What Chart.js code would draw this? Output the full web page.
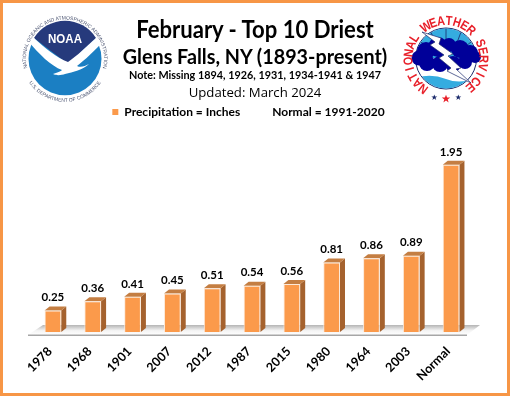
<!DOCTYPE html>
<html lang="en">
<head>
    <meta charset="UTF-8">
    <title>February - Top 10 Driest</title>
    <script src="https://cdn.jsdelivr.net/npm/chart.js"></script>
    <style>
        html, body { margin: 0; padding: 0; background: #fff; }
        #wrap { position: relative; width: 510px; height: 396px; overflow: hidden; }
        #wrap canvas { position: absolute; left: 0; top: 0; }
        #frame { position: absolute; left: 0; top: 0; width: 504px; height: 390px; border: 3px solid #F79646; }
        .t { position: absolute; left: 0; width: 510px; text-align: center; color: #000; font-family: Lato, sans-serif; white-space: nowrap; }
        svg { position: absolute; }
    </style>
</head>
<body>
<div id="wrap">
    <canvas id="chart" width="510" height="396"></canvas>
    <div id="frame"></div>
    <div class="t" style="top:14px;font-size:24px;font-weight:700;transform:scaleX(0.92);">February - Top 10 Driest</div>
    <div class="t" style="top:43px;font-size:21px;font-weight:700;transform:scaleX(0.94);">Glens Falls, NY (1893-present)</div>
    <div class="t" style="top:68px;font-size:11.5px;font-weight:700;transform:scaleX(0.94);">Note: Missing 1894, 1926, 1931, 1934-1941 &amp; 1947</div>
    <div class="t" style="top:83px;font-size:13.2px;font-family:'Open Sans',sans-serif;">Updated: March 2024</div>

    <svg style="left:15px;top:8px" width="100" height="100" viewBox="0 0 100 100">
        <defs>
            <path id="noaaTop" d="M 13.4 64 A 39 39 0 1 1 86.6 64"/>
            <path id="noaaBot" d="M 11 68.9 A 43 43 0 0 0 89 68.9"/>
        </defs>
        <circle cx="50" cy="50.7" r="36.5" fill="#1B7FC3"/>
        <path d="M 19 30 A 36.5 36.5 0 0 1 81 30 L 53 56 Z" fill="#263A7C"/>
        <path d="M 13 33 L 19 30 C 30 40 42 50 53 54 C 62 48 72 38 81 30 L 88 34 C 80 42 70 52 62 58 C 66 60 70 58 74 56 C 68 62 58 64 50 66 C 47 67 42 68 38 66 C 42 65 46 63 47 62 C 36 58 24 46 13 33 Z" fill="#fff"/>
        <text x="50" y="34.5" text-anchor="middle" font-family="Liberation Sans, sans-serif" font-weight="700" font-size="13" fill="#fff" textLength="34" lengthAdjust="spacingAndGlyphs">NOAA</text>
        <text font-family="Liberation Sans, sans-serif" font-size="5" fill="#4d5673"><textPath href="#noaaTop" startOffset="50%" text-anchor="middle">NATIONAL OCEANIC AND ATMOSPHERIC ADMINISTRATION</textPath></text>
        <text font-family="Liberation Sans, sans-serif" font-size="5" fill="#4d5673"><textPath href="#noaaBot" startOffset="50%" text-anchor="middle">U.S. DEPARTMENT OF COMMERCE</textPath></text>
    </svg>

    <svg id="nws" style="left:395px;top:8px" width="105" height="100" viewBox="0 0 105 100">
        <defs>
            <clipPath id="nwsClip"><circle cx="51" cy="50.5" r="30"/></clipPath>
            <polygon id="star" points="0,-3 0.8,-1 3,-1 1.2,0.3 1.9,2.5 0,1.1 -1.9,2.5 -1.2,0.3 -3,-1 -0.8,-1"/>
        </defs>
        <circle cx="51" cy="50.5" r="30.5" fill="#fff" stroke="#1B2A6B" stroke-width="1"/>
        <g clip-path="url(#nwsClip)">
            <rect x="20" y="18" width="62" height="32" fill="#35ACE0"/>
            <path d="M 20 70 Q 36 65 51 71 T 82 69 V 82 H 20 Z" fill="#35ACE0"/>
            <path d="M 51 20 V 40 M 36 24 L 42 40 M 66 24 L 60 40 M 26 34 L 36 42 M 76 34 L 66 42" stroke="#1B2A6B" stroke-width="0.8"/>
        </g>
        <g fill="#000099">
            <circle cx="24" cy="50" r="7.5"/><circle cx="31" cy="43" r="9"/><circle cx="43" cy="39" r="10"/>
            <circle cx="54" cy="37" r="7"/><circle cx="65" cy="41" r="9"/><circle cx="75" cy="45" r="8"/>
            <circle cx="80" cy="49" r="6"/><circle cx="32" cy="55" r="8"/><circle cx="45" cy="56" r="8"/>
            <circle cx="58" cy="56" r="8"/><circle cx="70" cy="54" r="7"/>
        </g>
        <polygon points="27,24 46,30 44,36 58,46 53,48 66,60 61,61 76,75 52,63 56,60 44,50 49,47 35,37 40,34" fill="#fff" stroke="#1B2A6B" stroke-width="0.7"/>
        <use href="#star" x="39.3" y="89.5" fill="#1B2A6B"/>
        <use href="#star" x="51" y="91" fill="#E8202A" transform="translate(51 91) scale(1.4) translate(-51 -91)"/>
        <use href="#star" x="63.3" y="89.5" fill="#1B2A6B"/>
    </svg>
</div>

<script>
    const categories = ["1978", "1968", "1901", "2007", "2012", "1987", "2015", "1980", "1964", "2003", "Normal"];
    const precipitation = [0.25, 0.36, 0.41, 0.45, 0.51, 0.54, 0.56, 0.81, 0.86, 0.89, 1.95];
    const legendLabels = ["Precipitation = Inches", "Normal = 1991-2020"];

    const barFill = "#FB9A4B";
    const barEdge = "#FCE9D8";
    const sideFill = "#A5622E";
    const topFill = "#C47E42";
    const depthX = 5;
    const depthY = 4;

    // ring lettering of the NWS logo, one rotated letter at a time
    const nws = document.getElementById("nws");
    Array.from("NATIONAL WEATHER SERVICE").forEach((ch, i) => {
        const letter = document.createElementNS("http://www.w3.org/2000/svg", "text");
        letter.textContent = ch;
        letter.setAttribute("transform", `rotate(${-143 + i * 12.3} 51 50.5) translate(51 17) scale(0.85 1)`);
        letter.setAttribute("text-anchor", "middle");
        letter.setAttribute("font-family", "Liberation Sans, sans-serif");
        letter.setAttribute("font-weight", "700");
        letter.setAttribute("font-size", "13");
        letter.setAttribute("fill", "#E8202A");
        nws.appendChild(letter);
    });

    // fake 3D: floor behind the bars, side and top faces, then the value labels
    const bars3d = {
        id: "bars3d",
        afterLayout(chart) {
            chart.legend.left -= 3.5;
            chart.legend.right -= 3.5;
        },
        beforeDatasetsDraw(chart) {
            const { ctx, chartArea: a } = chart;
            const base = a.bottom;
            const g = ctx.createLinearGradient(0, base - 8, 0, base + 3);
            g.addColorStop(0, "#a9a9a9");
            g.addColorStop(0.6, "#f4f4f4");
            g.addColorStop(1, "#ffffff");
            ctx.save();
            ctx.fillStyle = g;
            ctx.beginPath();
            ctx.moveTo(a.left - 5, base + 3);
            ctx.lineTo(a.left + 10, base - 7);
            ctx.lineTo(a.right + 9, base - 7);
            ctx.lineTo(a.right - 4, base + 3);
            ctx.closePath();
            ctx.fill();
            ctx.fillStyle = "#a6a6a6";
            ctx.fillRect(a.left - 5, base + 2.5, a.right - a.left + 1, 1.5);

            chart.getDatasetMeta(0).data.forEach(bar => {
                const l = bar.x - bar.width / 2, r = bar.x + bar.width / 2;
                ctx.fillStyle = sideFill;
                ctx.beginPath();
                ctx.moveTo(r, bar.y);
                ctx.lineTo(r + depthX, bar.y - depthY);
                ctx.lineTo(r + depthX, bar.base - depthY);
                ctx.lineTo(r, bar.base);
                ctx.closePath();
                ctx.fill();
                ctx.fillStyle = topFill;
                ctx.beginPath();
                ctx.moveTo(l, bar.y);
                ctx.lineTo(l + depthX, bar.y - depthY);
                ctx.lineTo(r + depthX, bar.y - depthY);
                ctx.lineTo(r, bar.y);
                ctx.closePath();
                ctx.fill();
            });
            ctx.restore();
        },
        afterDatasetsDraw(chart) {
            const { ctx } = chart;
            ctx.save();
            ctx.font = "700 11.5px Lato, sans-serif";
            ctx.fillStyle = "#000";
            ctx.textAlign = "center";
            ctx.textBaseline = "middle";
            chart.getDatasetMeta(0).data.forEach((bar, i) => {
                ctx.fillText(precipitation[i].toFixed(2), bar.x, bar.y - 13);
            });
            ctx.restore();
        }
    };

    new Chart(document.getElementById("chart"), {
        type: "bar",
        data: {
            labels: categories,
            datasets: [{
                label: legendLabels[0],
                data: precipitation,
                backgroundColor: barFill,
                borderColor: barEdge,
                borderWidth: 1,
                categoryPercentage: 0.42,
                barPercentage: 1
            }]
        },
        options: {
            responsive: false,
            animation: false,
            layout: { padding: { left: 33, right: 39, top: 86, bottom: 0 } },
            scales: {
                x: {
                    grid: { display: false },
                    border: { display: false },
                    ticks: {
                        autoSkip: false,
                        minRotation: 45,
                        maxRotation: 45,
                        padding: 4,
                        labelOffset: -3,
                        color: "#000",
                        font: { family: "Lato, sans-serif", size: 12.5, weight: "700" }
                    },
                    afterFit(scale) { scale.height = 64; }
                },
                y: { display: false, min: 0, max: 2.38 }
            },
            plugins: {
                tooltip: { enabled: false },
                legend: {
                    display: true,
                    position: "top",
                    labels: {
                        boxWidth: 6,
                        boxHeight: 6,
                        padding: 20,
                        color: "#000",
                        font: { family: "Lato, sans-serif", size: 12, weight: "700" },
                        generateLabels() {
                            return [
                                { text: legendLabels[0], fillStyle: barFill, strokeStyle: barFill, lineWidth: 0 },
                                { text: legendLabels[1], fillStyle: "rgba(0,0,0,0)", strokeStyle: "rgba(0,0,0,0)", lineWidth: 0 }
                            ];
                        }
                    }
                }
            }
        },
        plugins: [bars3d]
    });
</script>
</body>
</html>
